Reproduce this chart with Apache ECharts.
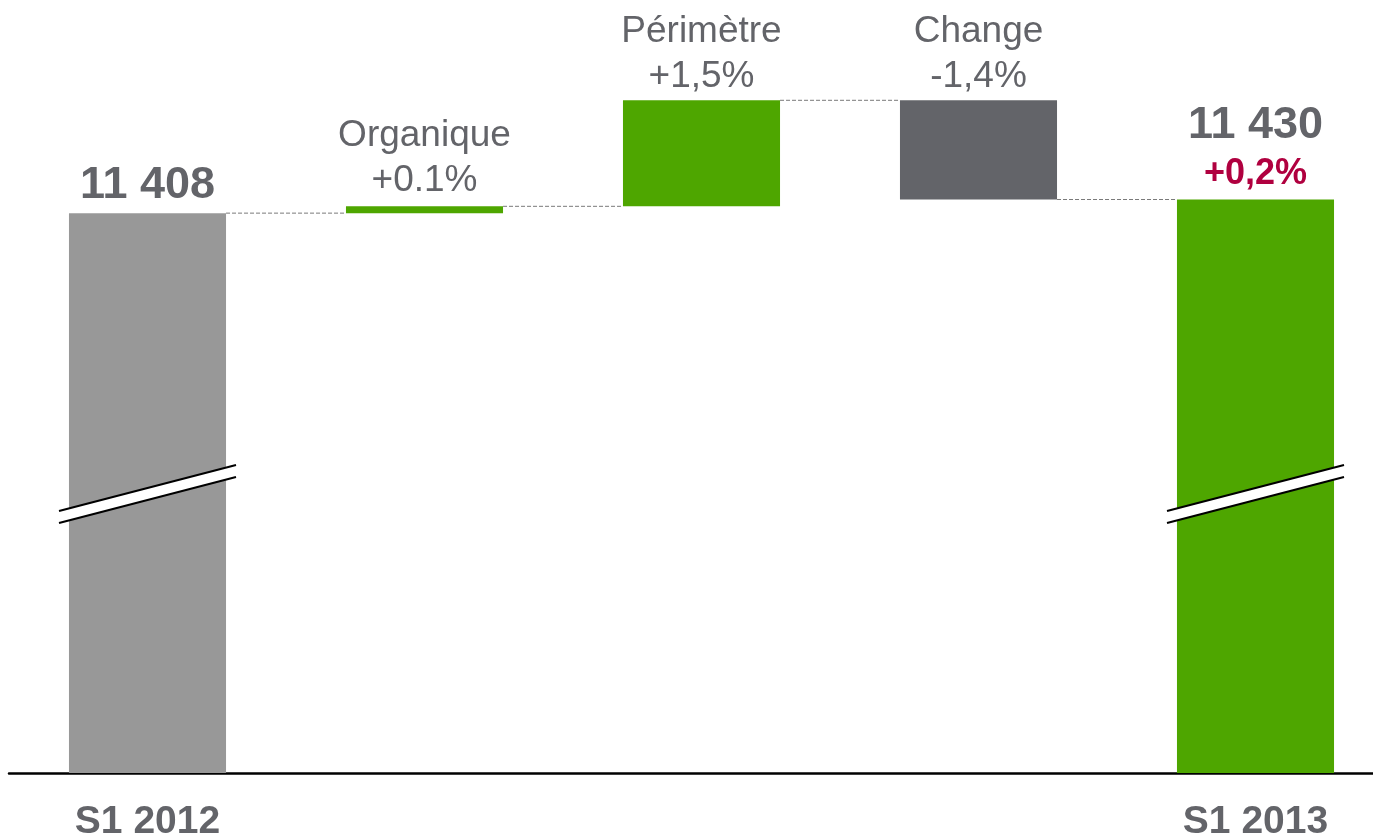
<!DOCTYPE html>
<html>
<head>
<meta charset="utf-8">
<script src="https://cdn.jsdelivr.net/npm/echarts@6/dist/echarts.min.js"></script>
<style>
  html, body { margin: 0; padding: 0; background: #fff; }
  #chart { width: 1373px; height: 840px; }
</style>
</head>
<body>
<div id="chart"></div>
<script>
// waterfall: S1 2012 -> S1 2013
const categories = ["S1 2012", "Organique", "Périmètre", "Change", "S1 2013"];
const baseValues = [null, 11408, 11419, 11430, null];
const deltaValues = [11408, 11, 171, 160, 11430];
const topTexts = ["11 408", "+0.1%", "+1,5%", "-1,4%", "11 430"];
const totalChange = "+0,2%";
const levels = [11408, 11419, 11590, 11430];
const breakValue = 10955;

const grey = "#636469";
const colors = ["#989898", "#4ea600", "#4ea600", "#636469", "#4ea600"];
const labelGaps = [4, 3, 1, 1, 3];

const chart = echarts.init(document.getElementById("chart"));
const font = "'Liberation Sans', Arial, sans-serif";
const barRatio = 0.567;

const option = {
  animation: false,
  grid: { left: 9, width: 1385, top: 29, bottom: 67, outerBoundsMode: "none", containLabel: false },
  xAxis: {
    type: "category",
    data: categories,
    axisTick: { show: false },
    axisLine: { lineStyle: { color: "#000", width: 2.5 } },
    axisLabel: {
      interval: 0,
      margin: 30,
      fontFamily: font,
      fontSize: 39,
      fontWeight: "bold",
      color: grey,
      formatter: (v, i) => (i === 0 || i === 4 ? v : ""),
    },
  },
  yAxis: {
    type: "value",
    min: 10505,
    max: 11705,
    show: false,
    splitLine: { show: false },
  },
  series: [
    {
      type: "bar",
      stack: "w",
      data: baseValues,
      barWidth: "56.7%",
      itemStyle: { color: "transparent" },
      silent: true,
    },
    {
      type: "bar",
      stack: "w",
      data: deltaValues.map((v, i) => ({
        value: v,
        itemStyle: { color: colors[i] },
        label: { distance: labelGaps[i] },
      })),
      barWidth: "56.7%",
      label: {
        show: true,
        position: "top",
        fontFamily: font,
        formatter: (p) => {
          const i = p.dataIndex;
          if (i === 0) return "{big|" + topTexts[0] + "}";
          if (i === 4) return "{big2|" + topTexts[4] + "}\n{red|" + totalChange + "}";
          return "{n|" + categories[i] + "}\n{n|" + topTexts[i] + "}";
        },
        rich: {
          big: { fontFamily: font, fontSize: 45, fontWeight: "bold", color: grey, lineHeight: 48 },
          big2: { fontFamily: font, fontSize: 45, fontWeight: "bold", color: grey, lineHeight: 54 },
          red: { fontFamily: font, fontSize: 36, fontWeight: "bold", color: "#b0003f", lineHeight: 44 },
          n: { fontFamily: font, fontSize: 37, color: grey, lineHeight: 45 },
        },
      },
    },
    {
      // dashed connectors between bars
      type: "custom",
      silent: true,
      z: 1,
      data: levels.map((v, i) => [i, v]),
      renderItem: (params, api) => {
        const i = api.value(0);
        const v = api.value(1);
        const band = api.size([1, 0])[0];
        const half = (band * barRatio) / 2;
        const a = api.coord([i, v]);
        const b = api.coord([i + 1, v]);
        return {
          type: "line",
          shape: { x1: a[0] + half, y1: a[1], x2: b[0] - half, y2: b[1] },
          style: { stroke: "#7a7a7a", lineWidth: 1, lineDash: [4, 2] },
        };
      },
    },
    {
      // axis break marks
      type: "custom",
      silent: true,
      z: 10,
      data: [[0, breakValue], [4, breakValue]],
      renderItem: (params, api) => {
        const c = api.coord([api.value(0), api.value(1)]);
        const hw = 88.5, dy = 23, g = 6;
        const x0 = c[0] - hw, x1 = c[0] + hw;
        return {
          type: "group",
          children: [
            {
              type: "polygon",
              shape: { points: [[x0, c[1] - g + dy], [x1, c[1] - g - dy], [x1, c[1] + g - dy], [x0, c[1] + g + dy]] },
              style: { fill: "#fff" },
            },
            {
              type: "line",
              shape: { x1: x0, y1: c[1] - g + dy, x2: x1, y2: c[1] - g - dy },
              style: { stroke: "#000", lineWidth: 2 },
            },
            {
              type: "line",
              shape: { x1: x0, y1: c[1] + g + dy, x2: x1, y2: c[1] + g - dy },
              style: { stroke: "#000", lineWidth: 2 },
            },
          ],
        };
      },
    },
  ],
};

chart.setOption(option);
</script>
</body>
</html>
